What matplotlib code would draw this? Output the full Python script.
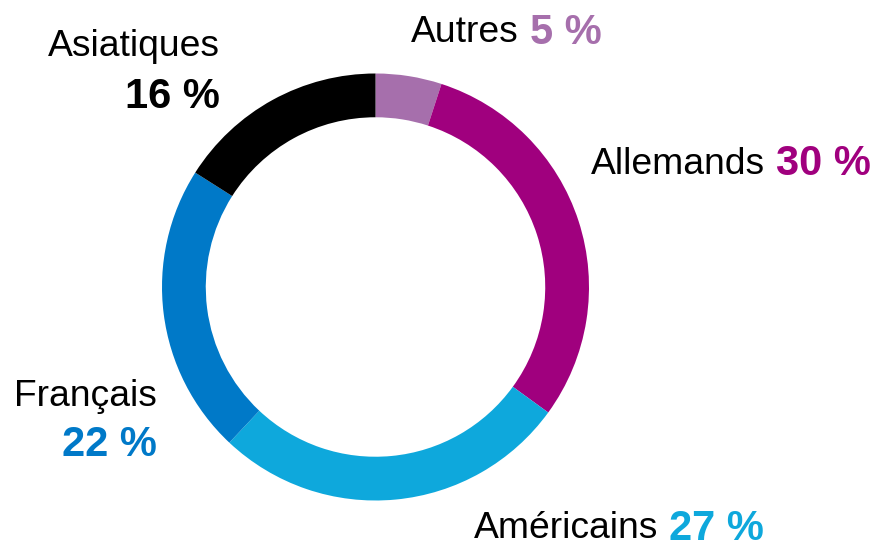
import matplotlib.pyplot as plt

plt.rcParams['font.family'] = ['Liberation Sans', 'DejaVu Sans']

groups = ["Autres", "Allemands", "Américains", "Français", "Asiatiques"]
shares = [5, 30, 27, 22, 16]
colors = ["#a66fac", "#a0007e", "#0ea8dc", "#0079c8", "#000000"]

W, H = 878, 548
fig = plt.figure(figsize=(W / 100, H / 100), dpi=100)

cx, cy, r = 375.5, 287, 213.5
ax = fig.add_axes([(cx - r) / W, (H - cy - r) / H, 2 * r / W, 2 * r / H])
ax.pie(shares, colors=colors, startangle=90, counterclock=False, radius=1,
       wedgeprops=dict(width=0.205, linewidth=0))
ax.set_xlim(-1, 1)
ax.set_ylim(-1, 1)
ax.set_aspect('equal')
ax.axis('off')

fs = 26.8
fsb = 30


def px(x, y):
    return x / W, 1 - y / H


def pct(val):
    return f"{val} %"


def inline(name, val, col, xsplit, y):
    fig.text(*px(xsplit, y), name, ha='right', va='center', fontsize=fs)
    fig.text(*px(xsplit + 11, y), pct(val), ha='left', va='center',
             fontsize=fsb, fontweight='bold', color=col)


def stacked(name, val, col, xright, y1, y2):
    fig.text(*px(xright, y1), name, ha='right', va='center', fontsize=fs)
    fig.text(*px(xright, y2), pct(val), ha='right', va='center',
             fontsize=fsb, fontweight='bold', color=col)


inline(groups[0], shares[0], colors[0], 519, 33)
inline(groups[1], shares[1], colors[1], 765, 164)
inline(groups[2], shares[2], colors[2], 658, 529)
stacked(groups[3], shares[3], colors[3], 157, 397, 445)
stacked(groups[4], shares[4], colors[4], 220, 46, 97)

fig.savefig("out.png", dpi=100)
